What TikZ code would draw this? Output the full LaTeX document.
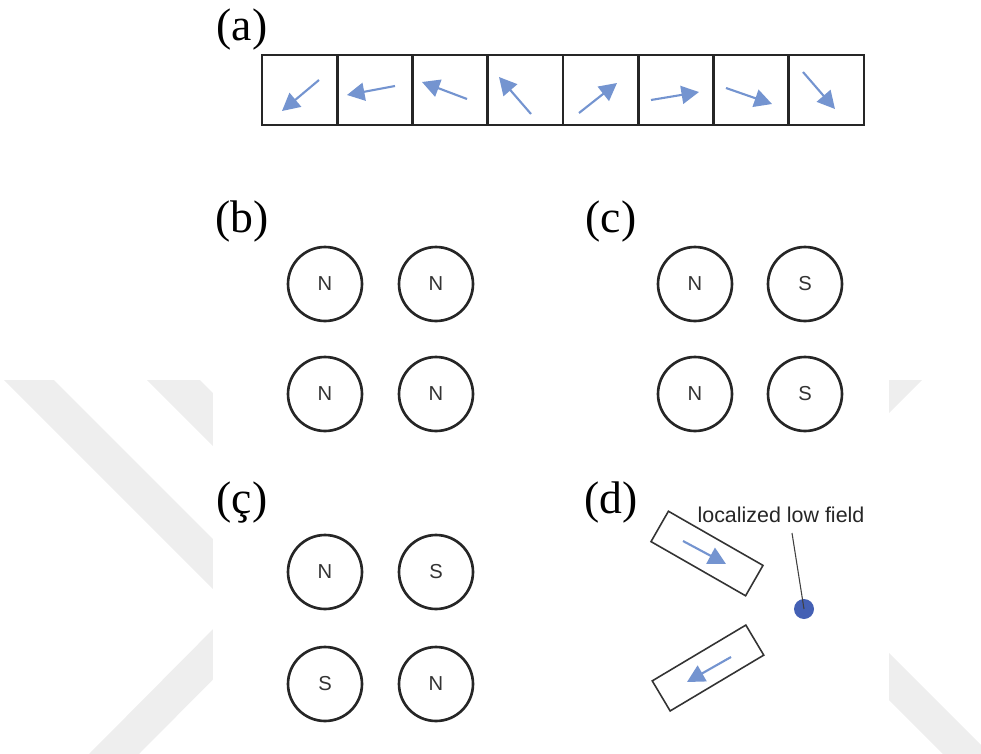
\documentclass[tikz,border=0pt]{standalone}
\usepackage{fontspec}
\setmainfont{Liberation Serif}
\setsansfont{Liberation Sans}
\usepackage{tikz}
\usetikzlibrary{arrows.meta}

\definecolor{spinblue}{RGB}{116,148,208}
\definecolor{dotblue}{RGB}{68,96,180}
\definecolor{wmgray}{RGB}{238,238,238}

\tikzset{
  panel/.style={font=\fontsize{26}{30}\selectfont, inner sep=0pt},
  pole/.style={circle, draw=black!85, line width=1.5pt, minimum size=1.48cm, inner sep=0pt,
    font=\sffamily\fontsize{11.5}{13}\selectfont, text=black!80},
  cell/.style={draw=black!85, line width=1.6pt, minimum width=1.505cm, minimum height=1.4cm, inner sep=0pt},
  spin/.style={draw=spinblue, line width=1.2pt, -{Triangle[length=0.35cm,width=0.36cm]}},
  bar/.style={draw=black!80, line width=0.9pt, minimum width=2.18cm, minimum height=0.7cm, inner sep=0pt},
}

\begin{document}
\begin{tikzpicture}[x=0.02cm, y=-0.02cm]
    \useasboundingbox (0,0) rectangle (981,754);
    \fill [wmgray] (4,380) -- (54,380) -- (283,609) -- (139,754) -- (89,754) -- (233,609) -- cycle;
    \fill [wmgray] (147,380) -- (200,380) -- (420,600) -- (367,600) -- cycle;
    \fill [wmgray] (872,380) -- (922,380) -- (769,533) -- (981,745) -- (981,754) -- (943,754) -- (720,531) -- cycle;
    \fill [white] (213,0) rectangle (889,748);

    \node[panel] (la) at (242,30) {(a)};
    \foreach \i in {1,...,8}
      \node[cell] (c\i) at ({262+75.25*(\i-0.5)},90) {};
    \draw[spin] (319,80) -- (282,111);
    \draw[spin] (395,86) -- (347,95);
    \draw[spin] (467,99) -- (422,82);
    \draw[spin] (531,114) -- (499,77);
    \draw[spin] (579,113) -- (617,83);
    \draw[spin] (651,100) -- (699,92);
    \draw[spin] (726,88) -- (772,104);
    \draw[spin] (803,72) -- (835,109);

    \node[panel] (lb) at (242,222) {(b)};
    \node[pole] (b1) at (325,284) {N};
    \node[pole] (b2) at (436,284) {N};
    \node[pole] (b3) at (325,394) {N};
    \node[pole] (b4) at (436,394) {N};

    \node[panel] (lc) at (611,222) {(c)};
    \node[pole] (c1) at (695,284) {N};
    \node[pole] (c2) at (805,284) {S};
    \node[pole] (c3) at (695,394) {N};
    \node[pole] (c4) at (805,394) {S};

    \node[panel] (lcc) at (242,503) {(ç)};
    \node[pole] (cc1) at (325,572) {N};
    \node[pole] (cc2) at (436,572) {S};
    \node[pole] (cc3) at (325,684) {S};
    \node[pole] (cc4) at (436,684) {N};

    \node[panel] (ld) at (611,503) {(d)};
    \node[bar, rotate=-29.8] (m1) at (707,553.5) {};
    \node[bar, rotate=30.8] (m2) at (708,668) {};
    \draw[spin] (683,541) -- (726,564);
    \draw[spin] (731,657) -- (687,682);
    \node[font=\sffamily\fontsize{12.2}{14}\selectfont, text=black!85, inner sep=0pt] (lowlbl) at (781,515) {localized low field};
    \node[circle, fill=dotblue, minimum size=0.4cm, inner sep=0pt] (lowpt) at (804,609) {};
    \coordinate (lead) at (792,533);
    \draw[black!75, line width=0.6pt] (lead) -- (lowpt.center);
\end{tikzpicture}
\end{document}
